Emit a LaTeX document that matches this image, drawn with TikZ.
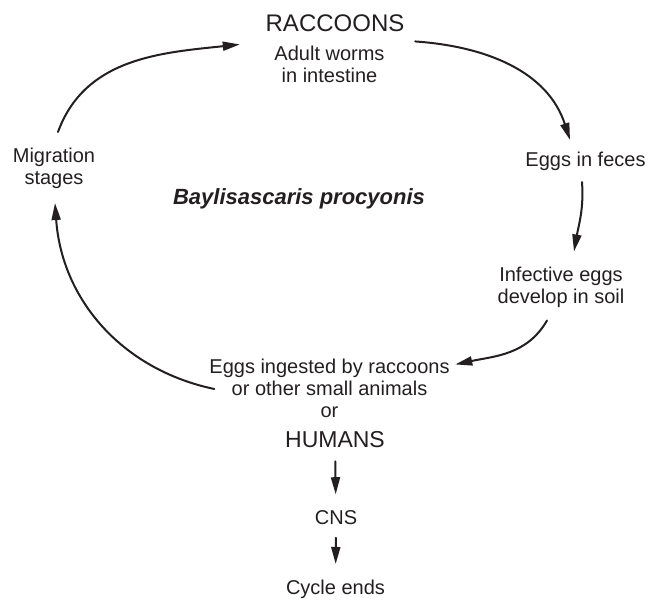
\documentclass[tikz,border=0pt]{standalone}
\usepackage{fontspec}
\setmainfont{Liberation Sans}
\usepackage{xcolor}
\usepackage{tikz}
\usetikzlibrary{arrows.meta,positioning}
\definecolor{bcInk}{HTML}{231F20}
\tikzset{
  bc diagram/.style={font=\fontsize{20}{22}\selectfont, text=bcInk,
    line cap=round, line join=round},
  bc label/.style={align=center, inner sep=0pt},
  bc host/.style={bc label, font=\fontsize{24}{28}\selectfont},
  bc human/.style={bc label, font=\fontsize{23}{26}\selectfont},
  bc title/.style={bc label, font=\fontsize{22}{26}\selectfont\bfseries\itshape},
  bc arrow/.style={-{Triangle[length=17pt,width=9pt]}, draw=bcInk, line width=2pt},
  bc down/.style={bc arrow, shorten <=13pt, shorten >=16pt}
}
\begin{document}
\begin{tikzpicture}[bc diagram,x=1pt,y=1pt]
\useasboundingbox (0,0) rectangle (660,599);
\node[bc host] (raccoons) at (335,575.5) {RACCOONS};
\node[bc label] (adult) at (329.5,535) {Adult worms\\in intestine};
\node[bc label] (feces) at (585.5,437.5) {Eggs in feces};
\node[bc label] (soil) at (561,312) {Infective eggs\\develop in soil};
\node[bc label] (ingest) at (329.5,211) {Eggs ingested by raccoons\\or other small animals\\or};
\node[bc label] (mig) at (54,430.5) {Migration\\stages};
\node[bc title] (title) at (299,400) {Baylisascaris procyonis};
\node[bc human] (humans) at (335,159) {HUMANS};
\node[bc label] (cns) at (336,81.5) {CNS};
\node[bc label] (ends) at (335.5,9.5) {Cycle ends};
\draw[bc arrow] ([shift={(4,16)}]mig.north) to[out=70,in=186] ([shift={(-34.5,1)}]adult.north west);
\draw[bc arrow] ([shift={(30.5,4)}]adult.north east) to[out=-4,in=108] ([shift={(-15.5,12)}]feces.north);
\draw[bc arrow] ([shift={(-3.5,-11)}]feces.south) to[out=-86,in=80] ([shift={(13,15)}]soil.north);
\draw[bc arrow] ([shift={(-14,-13)}]soil.south) to[out=-120,in=12] ([shift={(5.5,-6)}]ingest.north east);
\draw[bc arrow] ([shift={(5,-1)}]ingest.west) to[out=168,in=-86] ([shift={(1,-14)}]mig.south);
\draw[bc down] (humans) -- (cns);
\draw[bc down] (cns) -- (ends);
\end{tikzpicture}
\end{document}
